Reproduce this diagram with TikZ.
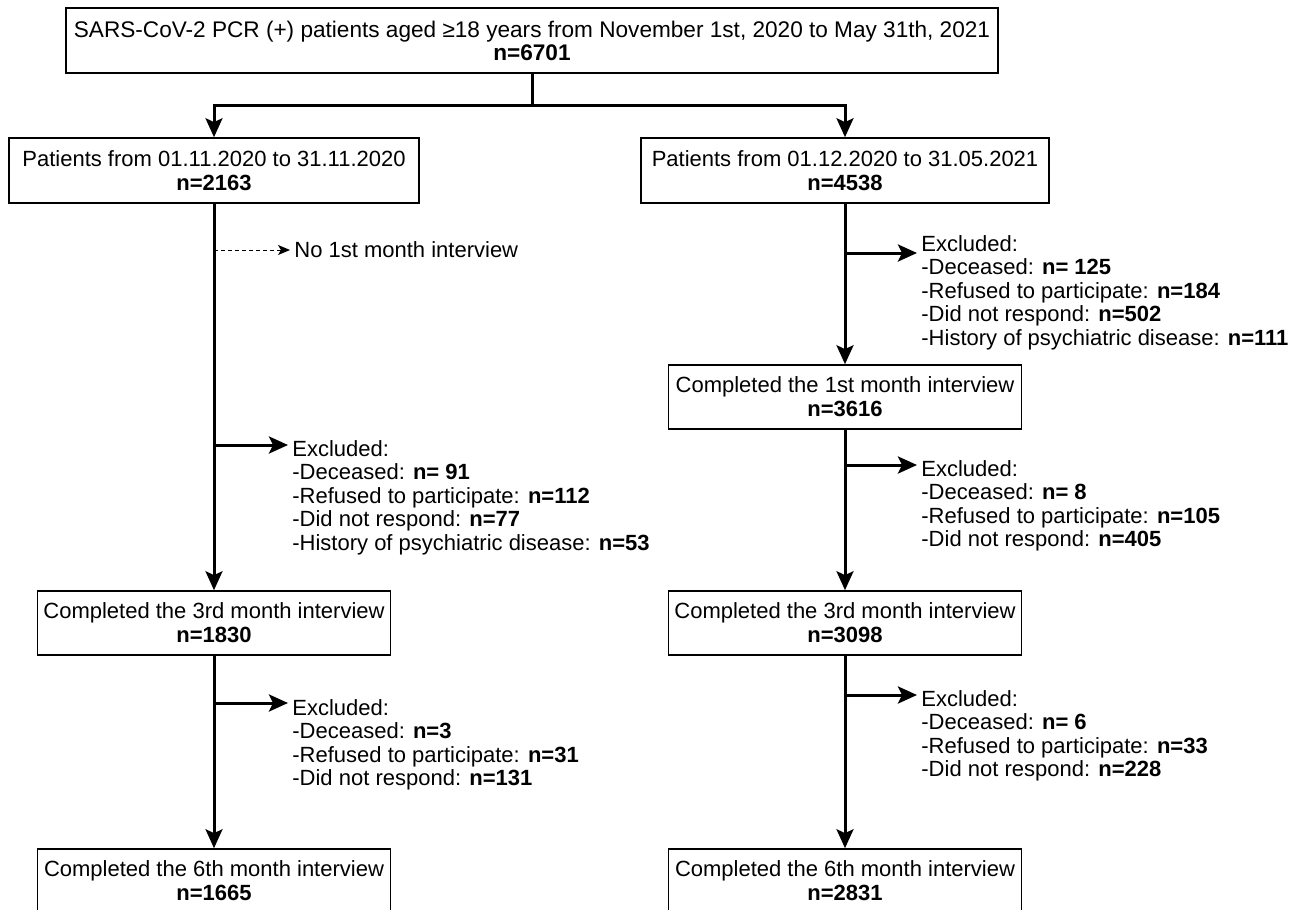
\documentclass[tikz,border=0pt]{standalone}
\usepackage{fontspec}
\setmainfont{Liberation Sans}
\usetikzlibrary{arrows.meta}

\begin{document}
\begin{tikzpicture}[x=0.5pt, y=-0.5pt,
    box/.style={draw, line width=0.8pt, inner sep=0pt, align=center, minimum width=176.5pt, minimum height=32pt, font=\fontsize{11}{12}\selectfont},
    arr/.style={line width=1.5pt, -{Stealth[length=9.5pt, width=8.5pt, inset=2pt]}},
    dasharr/.style={line width=0.5pt, dash pattern=on 2pt off 1.5pt, -{Stealth[length=6pt, width=5pt, inset=1.5pt]}},
    excl/.style={anchor=north west, inner xsep=2pt, inner ysep=0pt, align=left, font=\fontsize{11}{11.75}\selectfont}]
    \useasboundingbox (0,0) rectangle (1301,910);
    % boxes
    \node[box, minimum width=466pt, minimum height=32.5pt, font=\fontsize{11.3}{11.5}\selectfont] (all) at (532,40.5) {SARS-CoV-2 PCR (+) patients aged ≥18 years from November 1st, 2020 to May 31th, 2021\\\textbf{n=6701}};
    \node[box, minimum width=205pt, minimum height=32.5pt] (nov) at (214,170.5) {Patients from 01.11.2020 to 31.11.2020\\\textbf{n=2163}};
    \node[box, minimum width=204pt, minimum height=32.5pt] (dec) at (845,170.5) {Patients from 01.12.2020 to 31.05.2021\\\textbf{n=4538}};
    \node[box] (decfirst) at (845,397) {Completed the 1st month interview\\\textbf{n=3616}};
    \node[box] (novthird) at (214,623) {Completed the 3rd month interview\\\textbf{n=1830}};
    \node[box] (decthird) at (845,623) {Completed the 3rd month interview\\\textbf{n=3098}};
    \node[box] (novsixth) at (214,881) {Completed the 6th month interview\\\textbf{n=1665}};
    \node[box] (decsixth) at (845,881) {Completed the 6th month interview\\\textbf{n=2831}};
    % split
    \coordinate (split) at (532,105);
    \draw[line width=1.5pt] (all.south) -- (split);
    \draw[arr] (split) -| (nov.north);
    \draw[arr] (split) -| (dec.north);
    \draw[arr] (nov.south) -- (novthird.north);
    \draw[arr] (novthird.south) -- (novsixth.north);
    \draw[arr] (dec.south) -- (decfirst.north);
    \draw[arr] (decfirst.south) -- (decthird.north);
    \draw[arr] (decthird.south) -- (decsixth.north);
    % exclusions, left
    \coordinate (nobr) at (214,250);
    \node[anchor=west, inner xsep=2pt, inner ysep=0pt, font=\fontsize{11}{12}\selectfont] (nofirst) at (290,250) {No 1st month interview};
    \draw[dasharr] (nobr) -- (nofirst.west);
    \coordinate (novbr1) at (214,445);
    \node[excl] (novex1) at (288,440) {Excluded:\\-Deceased: \textbf{n= 91}\\-Refused to participate: \textbf{n=112}\\-Did not respond: \textbf{n=77}\\-History of psychiatric disease: \textbf{n=53}};
    \draw[arr] (novbr1) -- (novbr1 -| novex1.west);
    \coordinate (novbr2) at (214,703);
    \node[excl] (novex2) at (288,699) {Excluded:\\-Deceased: \textbf{n=3}\\-Refused to participate: \textbf{n=31}\\-Did not respond: \textbf{n=131}};
    \draw[arr] (novbr2) -- (novbr2 -| novex2.west);
    % exclusions, right
    \coordinate (decbr1) at (845,253);
    \node[excl] (decex1) at (917,235) {Excluded:\\-Deceased: \textbf{n= 125}\\-Refused to participate: \textbf{n=184}\\-Did not respond: \textbf{n=502}\\-History of psychiatric disease: \textbf{n=111}};
    \draw[arr] (decbr1) -- (decbr1 -| decex1.west);
    \coordinate (decbr2) at (845,465);
    \node[excl] (decex2) at (917,460) {Excluded:\\-Deceased: \textbf{n= 8}\\-Refused to participate: \textbf{n=105}\\-Did not respond: \textbf{n=405}};
    \draw[arr] (decbr2) -- (decbr2 -| decex2.west);
    \coordinate (decbr3) at (845,695);
    \node[excl] (decex3) at (917,690) {Excluded:\\-Deceased: \textbf{n= 6}\\-Refused to participate: \textbf{n=33}\\-Did not respond: \textbf{n=228}};
    \draw[arr] (decbr3) -- (decbr3 -| decex3.west);
\end{tikzpicture}
\end{document}
